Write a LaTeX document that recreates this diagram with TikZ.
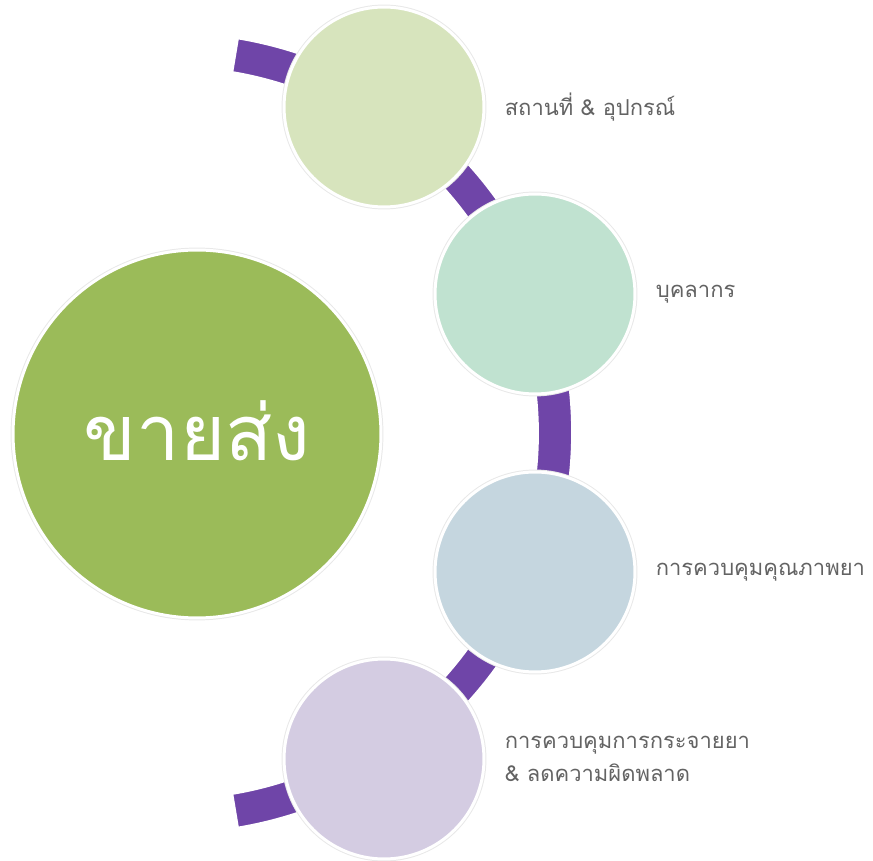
\documentclass[tikz,border=0pt]{standalone}
\usepackage{fontspec}
\usepackage{tikz}
\usetikzlibrary{positioning}
\newfontfamily\thaifont[Script=Thai]{Loma}
\definecolor{kheiyw}{HTML}{9BBB59}
\definecolor{muang}{HTML}{6F45A8}
\definecolor{wong1}{HTML}{D7E4BD}
\definecolor{wong2}{HTML}{C0E2D0}
\definecolor{wong3}{HTML}{C5D6DF}
\definecolor{wong4}{HTML}{D4CCE2}
\definecolor{tua}{HTML}{636363}

\begin{document}
\begin{tikzpicture}[
  x=0.02cm, y=0.02cm,
  font=\thaifont,
  wong/.style={circle, draw=white, line width=1.7pt, inner sep=0pt,
    minimum size=4cm, preaction={draw=black!9, line width=2.8pt}},
  lab/.style={font=\thaifont\fontsize{12.5}{19}\selectfont, text=tua,
    inner sep=0pt, align=left},
]
\useasboundingbox (0,0) rectangle (873,-861);
% แถบโค้งสีม่วง
\begin{scope}[shift={(172,-433)}]
\fill[muang, draw=white, line width=1pt] (80.5:400) arc[start angle=80.5, end angle=-80.5, radius=400]
  -- (-80.5:366) arc[start angle=-80.5, end angle=80.5, radius=366] -- cycle;
\end{scope}
% วงกลมใหญ่
\node[wong, fill=kheiyw, minimum size=7.36cm, text=white,
  font=\thaifont\fontsize{44}{50}\selectfont] (khai) at (197,-434) {\raisebox{4pt}{ขายส่ง}};
% วงกลมเล็ก
\node[wong, fill=wong1] (w1) at (384,-107) {};
\node[wong, fill=wong2] (w2) at (535,-294) {};
\node[wong, fill=wong3] (w3) at (535,-572) {};
\node[wong, fill=wong4] (w4) at (384,-759) {};
% ข้อความ
\node[lab, right=0.38cm of w1] (t1) {สถานที่ \& อุปกรณ์};
\node[lab, right=0.38cm of w2] (t2) {บุคลากร};
\node[lab, right=0.38cm of w3] (t3) {การควบคุมคุณภาพยา};
\node[lab, right=0.38cm of w4] (t4) {การควบคุมการกระจายยา\\ \& ลดความผิดพลาด};
\end{tikzpicture}
\end{document}
